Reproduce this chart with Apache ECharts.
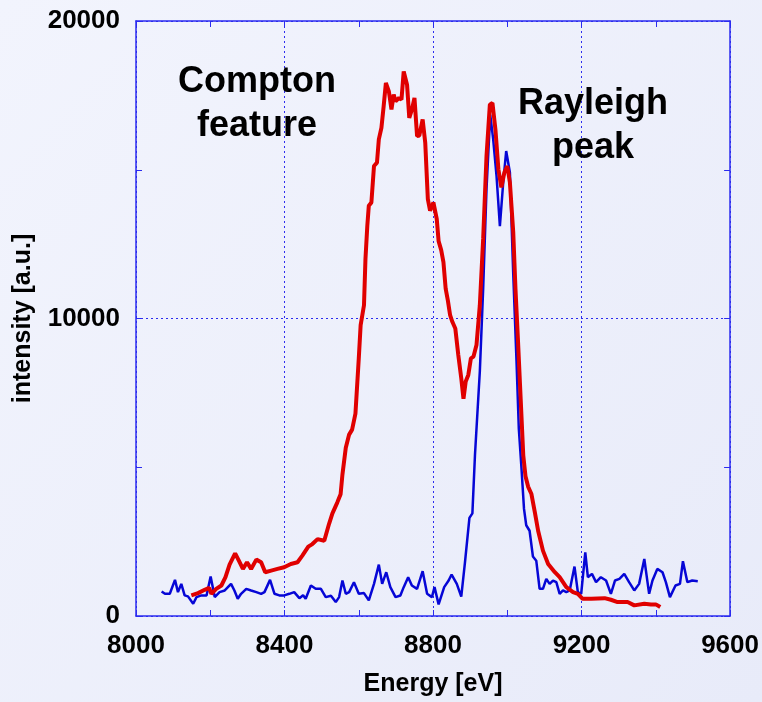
<!DOCTYPE html>
<html>
<head>
<meta charset="utf-8">
<script src="https://cdn.jsdelivr.net/npm/echarts@6/dist/echarts.min.js"></script>
<style>
html,body{margin:0;padding:0;width:762px;height:702px;overflow:hidden;}
#chart{width:762px;height:702px;}
</style>
</head>
<body>
<div id="chart"></div>
<script>
// ---- data ----
var xTicks = [8000, 8400, 8800, 9200, 9600];
var yTicks = [0, 10000, 20000];

var blueEnergy = [8069,8078,8091,8105,8113,8122,8131,8140,8154,8163,8176,8190,8201,8212,8225,8239,8256,8265,8274,8283,8297,8310,8324,8337,8346,8361,8373,8386,8399,8413,8426,8440,8450,8457,8471,8484,8498,8511,8525,8538,8547,8556,8565,8574,8587,8600,8614,8627,8641,8654,8663,8674,8685,8699,8712,8721,8733,8743,8757,8772,8784,8797,8804,8815,8830,8842,8850,8864,8876,8886,8898,8906,8913,8926,8935,8944,8954,8962,8971,8980,8989,8997,9007,9016,9025,9031,9038,9045,9051,9060,9069,9078,9087,9096,9105,9114,9123,9132,9141,9150,9159,9168,9181,9190,9199,9210,9217,9228,9239,9252,9266,9279,9290,9302,9315,9328,9342,9355,9369,9382,9391,9404,9418,9427,9438,9453,9465,9473,9485,9498,9513];
var blueIntensity = [826,746,746,1214,803,1080,692,659,411,635,692,692,1327,635,803,859,1080,859,579,746,913,859,803,746,803,1214,746,692,692,746,803,600,700,579,1025,913,913,635,680,468,635,1193,746,803,1137,746,770,525,1080,1728,1080,1472,970,635,690,970,1304,1025,913,1505,746,635,970,391,970,1193,1394,1080,650,1800,3300,3450,5428,8217,11000,14348,16850,16020,14793,13100,14571,15630,14905,11500,8500,6300,5000,3600,3050,2866,2000,1860,913,913,1248,1080,1193,1137,746,859,803,859,1662,803,746,2140,1304,1416,1137,1304,1193,746,1193,1248,1416,1137,859,1080,1917,746,1193,1583,1471,1137,635,1025,1080,1840,1137,1193,1170];

var redEnergy = [8149,8167,8185,8197,8203,8216,8230,8241,8252,8267,8277,8288,8299,8310,8324,8337,8348,8364,8381,8399,8417,8435,8448,8464,8475,8489,8507,8520,8529,8542,8551,8556,8565,8574,8582,8591,8600,8605,8614,8618,8623,8627,8634,8641,8649,8654,8661,8667,8673,8681,8688,8694,8699,8708,8715,8721,8730,8736,8743,8750,8757,8763,8772,8779,8786,8792,8801,8810,8815,8822,8828,8834,8840,8846,8852,8860,8868,8876,8882,8888,8895,8902,8909,8917,8926,8935,8944,8953,8960,8968,8976,8984,8992,9000,9007,9016,9022,9029,9036,9043,9049,9056,9065,9074,9083,9096,9110,9128,9141,9159,9177,9190,9203,9226,9244,9262,9279,9297,9324,9342,9369,9387,9400,9412];
var redIntensity = [692,769,880,947,746,913,1025,1304,1728,2107,1862,1583,1806,1583,1895,1806,1472,1527,1583,1639,1750,1806,2030,2331,2418,2585,2531,3100,3450,3813,4090,4759,5652,6097,6264,6800,8662,9776,10445,12006,13121,13790,13902,15127,15240,16020,16410,17134,17916,17637,17023,17525,17301,17413,17358,18305,17860,16745,17023,17413,16131,16150,16689,15909,14014,13622,13902,13344,12600,12300,11896,11003,10600,10110,9889,9665,8773,7993,7300,7882,8104,8662,8720,9107,10445,12676,15462,17190,17246,16355,15017,14404,14906,15127,14571,12900,11000,9200,7300,5400,4700,4350,4100,3500,2866,2197,1750,1472,1304,970,803,746,579,579,590,600,546,468,468,357,412,390,390,301];

var xName = 'Energy [eV]';
var yName = 'intensity [a.u.]';
var noteCompton = 'Compton\nfeature';
var noteRayleigh = 'Rayleigh\npeak';

function pairs(xs, ys){ var out=[]; for(var i=0;i<xs.length;i++){ out.push([xs[i], ys[i]]); } return out; }

var FONT = 'Liberation Sans, Arial, sans-serif';
var AX = '#2b2bef';
var chart = echarts.init(document.getElementById('chart'), null, {renderer:'canvas'});

var xMin = xTicks[0], xMax = xTicks[xTicks.length-1], xInt = xTicks[1]-xTicks[0];
var yMin = yTicks[0], yMax = yTicks[yTicks.length-1], yInt = yTicks[1]-yTicks[0];

var gridLine = {show:true, lineStyle:{color:AX, width:1, type:[2,3]}};
chart.setOption({
  backgroundColor: new echarts.graphic.LinearGradient(0,0,1,1,[{offset:0,color:'#f2f4fd'},{offset:1,color:'#e8ebf9'}]),
  animation:false,
  grid:{left:136, right:29, top:21, bottom:83, containLabel:false},
  xAxis:[{
    type:'value', min:xMin, max:xMax, interval:xInt, position:'bottom',
    name:xName, nameLocation:'middle', nameGap:56,
    nameTextStyle:{fontFamily:FONT, fontWeight:'bold', fontSize:25, color:'#000'},
    axisLine:{show:true, onZero:false, lineStyle:{color:AX, width:1.5}},
    axisTick:{show:true, inside:true, length:6, lineStyle:{color:AX}},
    minorTick:{show:true, splitNumber:2, length:6, lineStyle:{color:AX}},
    axisLabel:{margin:17, fontFamily:FONT, fontWeight:'bold', fontSize:26, color:'#000', formatter:function(v){return String(v);}},
    splitLine:gridLine
  },{
    type:'value', min:xMin, max:xMax, interval:xInt, position:'top',
    axisLine:{show:true, onZero:false, lineStyle:{color:AX, width:1.5}},
    axisTick:{show:true, inside:true, length:6, lineStyle:{color:AX}},
    minorTick:{show:true, splitNumber:2, length:6, lineStyle:{color:AX}},
    axisLabel:{show:false}, splitLine:{show:false}
  }],
  yAxis:[{
    type:'value', min:yMin, max:yMax, interval:yInt, position:'left',
    name:yName, nameLocation:'middle', nameGap:100, nameRotate:90,
    nameTextStyle:{fontFamily:FONT, fontWeight:'bold', fontSize:25, color:'#000'},
    axisLine:{show:true, onZero:false, lineStyle:{color:AX, width:1.5}},
    axisTick:{show:true, inside:true, length:6, lineStyle:{color:AX}},
    minorTick:{show:true, splitNumber:2, length:6, lineStyle:{color:AX}},
    axisLabel:{margin:16, fontFamily:FONT, fontWeight:'bold', fontSize:26, color:'#000', formatter:function(v){return String(v);}},
    splitLine:gridLine
  },{
    type:'value', min:yMin, max:yMax, interval:yInt, position:'right',
    axisLine:{show:true, onZero:false, lineStyle:{color:AX, width:1.5}},
    axisTick:{show:true, inside:true, length:6, lineStyle:{color:AX}},
    minorTick:{show:true, splitNumber:2, length:6, lineStyle:{color:AX}},
    axisLabel:{show:false}, splitLine:{show:false}
  }],
  series:[{
    type:'line', xAxisIndex:0, yAxisIndex:0, data:pairs(blueEnergy, blueIntensity),
    showSymbol:false, lineStyle:{color:'#0606d6', width:2.5}, z:3
  },{
    type:'line', xAxisIndex:0, yAxisIndex:0, data:pairs(redEnergy, redIntensity),
    showSymbol:false, lineStyle:{color:'#e00000', width:4}, z:4
  }],
  graphic:[{
    type:'text', x:257, y:60, z:10,
    style:{text:noteCompton, textAlign:'center', textVerticalAlign:'top', font:'bold 36px '+FONT, lineHeight:44, fill:'#000'}
  },{
    type:'text', x:593, y:82, z:10,
    style:{text:noteRayleigh, textAlign:'center', textVerticalAlign:'top', font:'bold 36px '+FONT, lineHeight:44, fill:'#000'}
  }]
});
</script>
</body>
</html>
